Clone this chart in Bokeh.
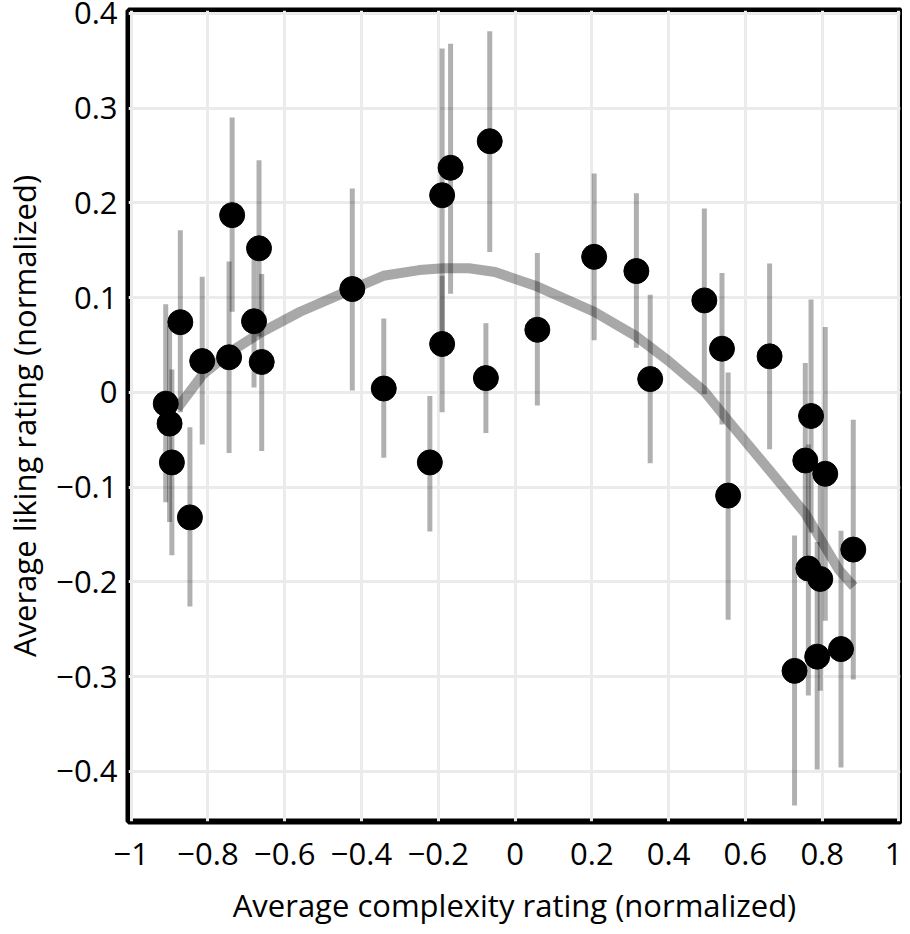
from bokeh.plotting import figure
from bokeh.models import Range1d, FixedTicker, ColumnDataSource
from bokeh.embed import file_html
from bokeh.resources import INLINE

# ---- data ----
complexity = [-0.910, -0.900, -0.894, -0.872, -0.847, -0.815, -0.745, -0.737, -0.667, -0.680,
              -0.660, -0.424, -0.342, -0.222, -0.190, -0.190, -0.168, -0.066, -0.076, 0.058,
              0.206, 0.316, 0.352, 0.493, 0.539, 0.555, 0.663, 0.771, 0.756, 0.808,
              0.881, 0.764, 0.795, 0.728, 0.787, 0.849]
liking = [-0.012, -0.033, -0.074, 0.074, -0.132, 0.033, 0.037, 0.187, 0.152, 0.075,
          0.032, 0.109, 0.004, -0.074, 0.208, 0.051, 0.237, 0.265, 0.015, 0.066,
          0.143, 0.128, 0.014, 0.097, 0.046, -0.109, 0.038, -0.025, -0.072, -0.086,
          -0.166, -0.186, -0.197, -0.294, -0.279, -0.271]
liking_hi = [0.093, 0.071, 0.024, 0.171, -0.037, 0.122, 0.138, 0.290, 0.245, 0.145,
             0.125, 0.215, 0.078, -0.004, 0.363, 0.123, 0.368, 0.381, 0.073, 0.147,
             0.231, 0.210, 0.103, 0.194, 0.126, 0.021, 0.136, 0.098, 0.031, 0.069,
             -0.029, -0.055, -0.078, -0.151, -0.158, -0.146]
liking_lo = [-0.116, -0.137, -0.172, -0.021, -0.226, -0.055, -0.064, 0.085, 0.059, 0.005,
             -0.062, 0.002, -0.069, -0.147, 0.053, -0.021, 0.104, 0.148, -0.043, -0.014,
             0.055, 0.047, -0.075, -0.002, -0.034, -0.240, -0.060, -0.148, -0.175, -0.241,
             -0.303, -0.320, -0.315, -0.436, -0.398, -0.396]

fit_x = [-0.880, -0.813, -0.740, -0.665, -0.560, -0.424, -0.343, -0.250, -0.187, -0.120,
         -0.052, 0.058, 0.206, 0.316, 0.400, 0.493, 0.556, 0.660, 0.756, 0.843, 0.882]
fit_y = [-0.017, 0.019, 0.043, 0.0625, 0.085, 0.109, 0.123, 0.129, 0.131, 0.131,
         0.127, 0.1116, 0.085, 0.059, 0.033, 0.001, -0.0305, -0.081, -0.128, -0.187, -0.205]

x_ticks = [-1, -0.8, -0.6, -0.4, -0.2, 0, 0.2, 0.4, 0.6, 0.8, 1]
x_tick_labels = ["\u22121", "\u22120.8", "\u22120.6", "\u22120.4", "\u22120.2", "0",
                 "0.2", "0.4", "0.6", "0.8", "1"]
y_ticks = [-0.4, -0.3, -0.2, -0.1, 0, 0.1, 0.2, 0.3, 0.4]
y_tick_labels = ["\u22120.4", "\u22120.3", "\u22120.2", "\u22120.1", "0",
                 "0.1", "0.2", "0.3", "0.4"]

x_title = "Average complexity rating (normalized)"
y_title = "Average liking rating (normalized)"

FONT = "Open Sans"

p = figure(width=902, height=928, output_backend="svg", toolbar_location=None,
           x_range=Range1d(-1.007, 1.004), y_range=Range1d(-0.453, 0.403),
           min_border_left=127, min_border_right=2, min_border_top=10, min_border_bottom=105)

p.background_fill_color = "white"
p.border_fill_color = "white"
p.outline_line_color = "black"
p.outline_line_width = 6

for g in (p.xgrid[0], p.ygrid[0]):
    g.grid_line_color = "#ebebeb"
    g.grid_line_width = 3

p.xaxis.ticker = FixedTicker(ticks=x_ticks)
p.yaxis.ticker = FixedTicker(ticks=y_ticks)
p.xgrid.ticker = FixedTicker(ticks=x_ticks)
p.ygrid.ticker = FixedTicker(ticks=y_ticks)
p.xaxis.major_label_overrides = dict(zip(x_ticks, x_tick_labels))
p.yaxis.major_label_overrides = dict(zip(y_ticks, y_tick_labels))

for ax in (p.xaxis[0], p.yaxis[0]):
    ax.axis_line_color = None
    ax.major_tick_line_color = None
    ax.minor_tick_line_color = None
    ax.major_tick_out = 0
    ax.major_tick_in = 0
    ax.major_label_text_font = FONT
    ax.major_label_text_font_size = "31px"
    ax.major_label_text_color = "black"
    ax.axis_label_text_font = FONT
    ax.axis_label_text_font_size = "31px"
    ax.axis_label_text_font_style = "normal"
    ax.axis_label_text_color = "black"

p.yaxis.major_label_text_line_height = 0.7

p.xaxis.axis_label = x_title
p.yaxis.axis_label = y_title
p.xaxis.major_label_standoff = 21
p.yaxis.major_label_standoff = 11
p.xaxis.axis_label_standoff = 16
p.yaxis.axis_label_standoff = 8

src = ColumnDataSource(dict(x=complexity, y=liking, hi=liking_hi, lo=liking_lo))

p.segment(x0="x", y0="lo", x1="x", y1="hi", source=src,
          line_color="black", line_alpha=0.31, line_width=5)
p.line(fit_x, fit_y, line_color="black", line_alpha=0.34, line_width=10, line_join="round")
p.scatter(x="x", y="y", source=src, size=25, fill_color="black", line_color="black", marker="circle")

open("out.html", "w").write(file_html(p, INLINE))
